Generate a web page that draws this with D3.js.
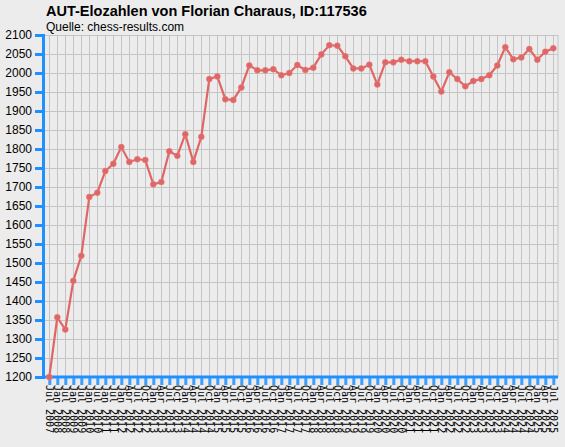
<!DOCTYPE html>
<html><head><meta charset="utf-8">
<script src="https://cdn.jsdelivr.net/npm/d3@7"></script>
<style>body{margin:0;background:#ececec}svg{display:block}</style>
</head><body><svg id="c" width="565" height="447"></svg>
<script>
const labels = ["Jul 2007","Jan 2008","Jul 2008","Jan 2009","Jul 2009","Jan 2010","Jul 2010","Jan 2011","Jul 2011","Jan 2012",
"Apr 2012","Jul 2012","Oct 2012",
"Jan 2013","Apr 2013","Jul 2013","Oct 2013","Jan 2014","Apr 2014","Jul 2014","Oct 2014",
"Jan 2015","Apr 2015","Jul 2015","Oct 2015","Jan 2016","Apr 2016","Jul 2016","Oct 2016",
"Jan 2017","Apr 2017","Jul 2017","Oct 2017","Jan 2018","Apr 2018","Jul 2018","Oct 2018",
"Jan 2019","Apr 2019","Jul 2019","Oct 2019","Jan 2020","Apr 2020","Jul 2020","Oct 2020",
"Jan 2021","Apr 2021","Jul 2021","Oct 2021","Jan 2022","Apr 2022","Jul 2022","Oct 2022",
"Jan 2023","Apr 2023","Jul 2023","Oct 2023","Jan 2024","Apr 2024","Jul 2024","Oct 2024",
"Jan 2025","Apr 2025","Jul 2025"];
const elo = [1200,1357,1325,1453,1519,1674,1685,1742,1761,1805,
1766,1773,1771,1707,1713,1794,1782,1839,1766,1832,
1984,1991,1931,1929,1962,2020,2007,2007,2010,1994,
2000,2021,2008,2014,2049,2073,2072,2044,2012,2012,
2022,1970,2028,2028,2035,2031,2031,2031,1991,1951,
2002,1984,1965,1979,1984,1994,2020,2068,2036,2041,
2063,2035,2056,2065];
const yTicks = d3.range(1200, 2101, 50);
const title = "AUT-Elozahlen von Florian Charaus, ID:117536";
const subtitle = "Quelle: chess-results.com";

const svg = d3.select("#c");
const L=43, R=558, T=35, B=377;
const x = d3.scalePoint().domain(labels).range([49.3, 553.3]);
const y = d3.scaleLinear().domain([1200,2100]).range([B,T]);

svg.append("rect").attr("width",565).attr("height",447).attr("fill","#ececec");
svg.append("text").attr("x",46).attr("y",16).attr("font-family","Liberation Sans, Arial, sans-serif")
  .attr("font-weight","bold").attr("font-size",14.5).text(title);
svg.append("text").attr("x",46).attr("y",31).attr("font-family","Liberation Sans, Arial, sans-serif")
  .attr("font-size",12).text(subtitle);

const g = svg.append("g");
g.selectAll(".hg").data(yTicks).join("line").attr("x1",L).attr("x2",R)
  .attr("y1",d=>y(d)+0.5).attr("y2",d=>y(d)+0.5).attr("stroke","#c4c4c4").attr("stroke-width",1);
g.selectAll(".vg").data(labels).join("line").attr("x1",d=>Math.round(x(d))+0.5).attr("x2",d=>Math.round(x(d))+0.5)
  .attr("y1",T).attr("y2",B).attr("stroke","#c4c4c4").attr("stroke-width",1);
g.append("line").attr("x1",R).attr("x2",R).attr("y1",T).attr("y2",B).attr("stroke","#c4c4c4");

const ya = svg.append("g").attr("transform",`translate(${L},0)`)
  .call(d3.axisLeft(y).tickValues(yTicks).tickSize(8).tickPadding(3).tickFormat(d3.format("d")));
ya.select(".domain").attr("stroke","#1e90ff").attr("stroke-width",3);
ya.selectAll(".tick line").attr("stroke","#1e90ff").attr("stroke-width",3);
ya.selectAll("text").attr("font-family","Liberation Sans, Arial, sans-serif").attr("font-size",12).attr("fill","#000");

const xa = svg.append("g").attr("transform",`translate(0,${B})`)
  .call(d3.axisBottom(x).tickSize(8).tickPadding(4).tickSizeOuter(0));
xa.select(".domain").attr("d",`M${L},0H${R}`).attr("stroke","#1e90ff").attr("stroke-width",3);
xa.selectAll(".tick line").attr("stroke","#3b9cff").attr("stroke-width",3).attr("y1",1);
xa.selectAll("text").attr("font-family","DejaVu Sans Mono, monospace").attr("font-size",10).attr("fill","#000")
  .attr("text-anchor","start").attr("dy","0.35em")
  .attr("transform","translate(0,8) rotate(90)").attr("x",0).attr("y",0);

const line = d3.line().x((d,i)=>x(labels[i])).y(d=>y(d));
svg.append("path").datum(elo).attr("d",line).attr("fill","none")
  .attr("stroke","#e06666").attr("stroke-width",2.2);
svg.selectAll(".pt").data(elo).join("circle").attr("cx",(d,i)=>x(labels[i])).attr("cy",d=>y(d))
  .attr("r",3).attr("fill","#e06666").attr("stroke","#e88080").attr("stroke-width",0.5);
</script></body></html>
